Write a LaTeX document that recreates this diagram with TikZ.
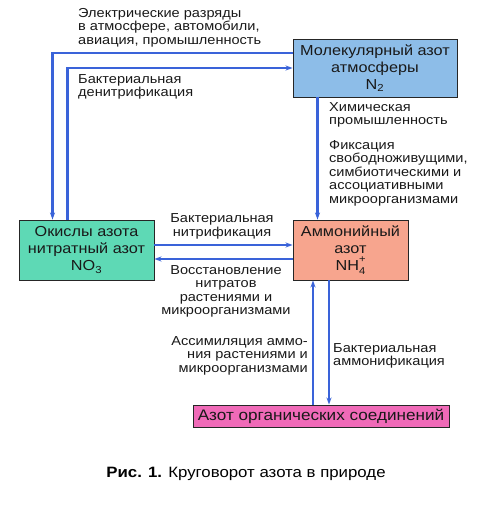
\documentclass[tikz,border=0pt]{standalone}
\usepackage{fontspec}
\setmainfont{Liberation Sans}[FakeStretch=1.12]
\usepackage{tikz}
\usetikzlibrary{arrows.meta,positioning,calc}
\tikzset{>=Stealth}
\definecolor{flowblue}{HTML}{3A63D9}
\definecolor{airblue}{HTML}{8DBDE8}
\definecolor{nitrogreen}{HTML}{5ED9B5}
\definecolor{ammosalmon}{HTML}{F7A58E}
\definecolor{orgpink}{HTML}{F06AB8}
\newcommand{\ionidx}[1]{{\fontsize{10}{10}\selectfont #1}}

\begin{document}
\begin{tikzpicture}[x=1pt, y=-1pt,
    box/.style={rectangle, draw=black!85, line width=0.9pt, align=center,
        inner sep=0pt, font=\fontsize{14.5}{17}\selectfont, text=black!90},
    lbl/.style={inner sep=0pt, font=\fontsize{13}{13.5}\selectfont, text=black!90},
    arrow/.style={-{Stealth[length=7pt, width=5pt]}, line width=2.6pt, draw=flowblue}
]
    \useasboundingbox (0,0) rectangle (485,515);

    \node[box, fill=airblue, minimum width=164pt, minimum height=58pt] (n2) at (375,68)
        {Молекулярный азот\\атмосферы\\N\textsubscript{2}};
    \node[box, fill=nitrogreen, minimum width=135pt, minimum height=60pt] (no3) at (86.5,250)
        {Окислы азота\\нитратный азот\\NO\textsubscript{3}};
    \node[box, fill=ammosalmon, minimum width=115pt, minimum height=60pt] (nh4) at (350.5,250)
        {Аммонийный\\азот\\NH\rlap{\raisebox{0.5em}{\ionidx{+}}}\raisebox{-0.3em}{\ionidx{4}}};
    \node[box, fill=orgpink, minimum width=256pt, minimum height=22pt,
        font=\fontsize{15.3}{17}\selectfont] (org) at (321,416)
        {Азот органических соединений};

    % atmosphere <-> oxides
    \draw[arrow] ([yshift=15]n2.west) -| ([xshift=-34]no3.north);
    \draw[arrow] ([xshift=-19]no3.north) |- (n2.west);
    \node[lbl, align=left, anchor=north west] (elec) at (78,8)
        {Электрические разряды\\в атмосфере, автомобили,\\авиация, промышленность};
    \node[lbl, align=left, anchor=north west] (denit) at (78,74)
        {Бактериальная\\денитрификация};

    % atmosphere -> ammonium
    \draw[arrow] ([xshift=-33]nh4.north |- n2.south) -- ([xshift=-33]nh4.north);
    \node[lbl, align=left, anchor=north west] (chem) at (329,102)
        {Химическая\\промышленность};
    \node[lbl, align=left, anchor=north west] (fix) at (329,140)
        {Фиксация\\свободноживущими,\\симбиотическими и\\ассоциативными\\микроорганизмами};

    % ammonium <-> oxides
    \draw[arrow] ([yshift=5]no3.east) -- ([yshift=5]nh4.west);
    \draw[arrow] ([yshift=-9]nh4.west) -- ([yshift=-9]no3.east);
    \node[lbl, align=center, anchor=south] (nitrif) at (222,239)
        {Бактериальная\\нитрификация};
    \node[lbl, align=center, anchor=north] (reduct) at (226,265)
        {Восстановление\\нитратов\\растениями и\\микроорганизмами};

    % ammonium <-> organic
    \draw[arrow] ([xshift=-8]org.north) -- ([xshift=-8]org.north |- nh4.south);
    \draw[arrow] ([xshift=8]org.north |- nh4.south) -- ([xshift=8]org.north);
    \node[lbl, align=right, anchor=north east] (assim) at (308,336)
        {Ассимиляция аммо-\\ния растениями и\\микроорганизмами};
    \node[lbl, align=left, anchor=north west] (ammon) at (333,343)
        {Бактериальная\\аммонификация};

    \node[font=\fontsize{15}{17}\selectfont, inner sep=0pt, anchor=base] (caption) at (246,477)
        {\textbf{Рис. 1.} Круговорот азота в природе};
\end{tikzpicture}
\end{document}
